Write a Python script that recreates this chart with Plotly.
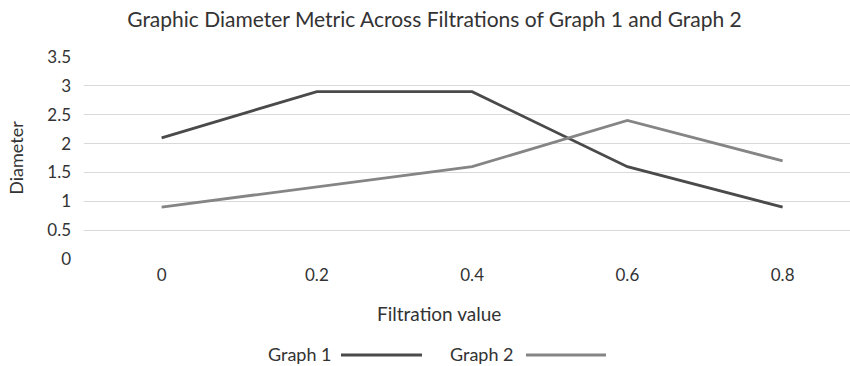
import plotly.graph_objects as go

categories = ["0", "0.2", "0.4", "0.6", "0.8"]
graph1 = [2.1, 2.9, 2.9, 1.6, 0.9]
graph2 = [0.9, 1.25, 1.6, 2.4, 1.7]
series_names = ["Graph 1", "Graph 2"]
series_colors = ["#4a4a4a", "#858585"]

FONT = "Lato"
TXT = "#333333"

W, H = 850, 366
L, R, T, B = 84, 0, 57, 107
PW, PH = W - L - R, H - T - B


def px2x(px):
    return (px - L) / PW


def py2y(py):
    return (H - B - py) / PH


fig = go.Figure()
for name, vals, col in zip(series_names, [graph1, graph2], series_colors):
    fig.add_trace(go.Scatter(x=categories, y=vals, mode="lines", name=name,
                             line=dict(color=col, width=2.8), showlegend=False))

fig.update_layout(
    width=W, height=H,
    margin=dict(l=L, r=R, t=T, b=B),
    paper_bgcolor="white", plot_bgcolor="white",
    font=dict(family=FONT, color=TXT, size=17),
    title=dict(text="Graphic Diameter Metric Across Filtrations of Graph 1 and Graph 2",
               x=434.5 / W, xanchor="center", y=1 - 20 / H, yanchor="middle",
               font=dict(size=21, color=TXT, family=FONT)),
    xaxis=dict(type="category", range=[-0.5, 4.434], showgrid=False, showline=False,
               zeroline=False, ticks="", tickfont=dict(size=17), ticklabelstandoff=4),
    yaxis=dict(range=[0, 3.5], dtick=0.5, tick0=0, showgrid=True, gridcolor="#d9d9d9",
               gridwidth=1, zeroline=False, showline=False, ticks="",
               ticklabelstandoff=12, tickfont=dict(size=17),
               title=dict(text="Diameter", font=dict(size=18), standoff=18)),
)

# x-axis title
fig.add_annotation(text="Filtration value", xref="paper", yref="paper",
                   x=px2x(438.5), y=py2y(313), xanchor="center", yanchor="middle",
                   showarrow=False, font=dict(size=19, color=TXT, family=FONT))

# legend drawn as text followed by a line sample
leg = [("Graph 1", series_colors[0], 268, 341, 422),
       ("Graph 2", series_colors[1], 450, 526, 606)]
for name, col, tx, x0, x1 in leg:
    fig.add_annotation(text=name, xref="paper", yref="paper", x=px2x(tx),
                       y=py2y(354), xanchor="left", yanchor="middle", showarrow=False,
                       xshift=-2, font=dict(size=18, color=TXT, family=FONT))
    fig.add_shape(type="line", xref="paper", yref="paper",
                  x0=px2x(x0), x1=px2x(x1), y0=py2y(355), y1=py2y(355),
                  line=dict(color=col, width=3))

fig.write_html("out.html")
